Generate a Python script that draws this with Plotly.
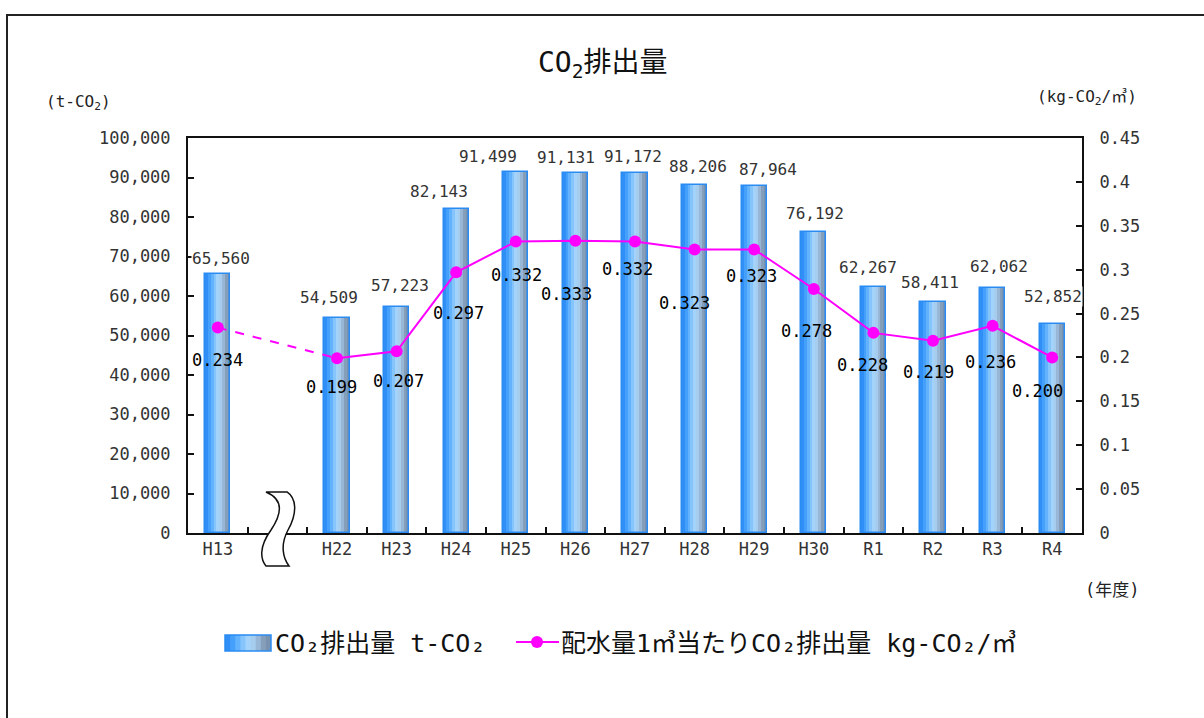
import plotly.graph_objects as go

# ---------------- data ----------------
categories = ["H13", " ", "H22", "H23", "H24", "H25", "H26", "H27", "H28", "H29", "H30", "R1", "R2", "R3", "R4"]
co2_t = [65560, None, 54509, 57223, 82143, 91499, 91131, 91172, 88206, 87964, 76192, 62267, 58411, 62062, 52852]
co2_per_m3 = [0.234, None, 0.199, 0.207, 0.297, 0.332, 0.333, 0.332, 0.323, 0.323, 0.278, 0.228, 0.219, 0.236, 0.200]
left_ticks = [0, 10000, 20000, 30000, 40000, 50000, 60000, 70000, 80000, 90000, 100000]
right_ticks = [0, 0.05, 0.1, 0.15, 0.2, 0.25, 0.3, 0.35, 0.4, 0.45]

title_text = "CO<sub>2</sub>排出量"
left_title = "(t-CO<sub>2</sub>)"
right_title = "(kg-CO<sub>2</sub>/㎥)"
x_title = "(年度)"
legend_bar = "CO₂排出量 t-CO₂"
legend_line = "配水量1㎥当たりCO₂排出量 kg-CO₂/㎥"

# ---------------- styling ----------------
bar_label_dx = [3, 0, -8, 3, -17, -28, -9, -2, 3, 14, 1, -5, -3, 6, 1]
bar_label_dy = [16, 0, 20, 21, 17, 15, 16, 16, 18, 16, 19, 20, 20, 21, 28]
line_label_dx = [0, 0, -6, 2, 2, 1, -9, -8, -10, -3, -7, -11, -5, -2, -15]
line_label_dy = [32, 0, 29, 30, 41, 33, 53, 27, 54, 27, 42, 32, 31, 36, 34]
grad_colors = ["#2f8ff7", "#45a0fb", "#62b2fd", "#86c5fc", "#a3d3fa", "#a7cdee",
               "#98b7d6", "#859fbb", "#7892b0"]
BAR_W = 0.42
MAGENTA = "#ff00ff"
FONT = "DejaVu Sans Mono, Noto Sans CJK JP"

W, H = 1204, 718
PL, PR, PT, PB = 188, 1082, 138, 533   # plot area in pixels


def px(x):
    return (x - PL) / (PR - PL)


def py(y):
    return (PB - y) / (PB - PT)


fig = go.Figure()

n = len(grad_colors)
for i, c in enumerate(grad_colors):
    start = -BAR_W / 2 + i * BAR_W / n
    fig.add_trace(go.Bar(
        x=categories, y=co2_t, width=BAR_W / 2 - start, offset=start,
        marker=dict(color=c, line=dict(width=0)), showlegend=False, hoverinfo="skip"))
fig.add_trace(go.Bar(
    x=categories, y=co2_t, width=BAR_W, offset=-BAR_W / 2,
    marker=dict(color="rgba(0,0,0,0)", line=dict(color="#2a8cf2", width=1.5)),
    showlegend=False, name="CO₂排出量"))

# dashed connector across the break
first = 0
nxt = next(i for i in range(1, len(co2_per_m3)) if co2_per_m3[i] is not None)
fig.add_trace(go.Scatter(
    x=[categories[first], categories[nxt]], y=[co2_per_m3[first], co2_per_m3[nxt]],
    yaxis="y2", mode="lines", line=dict(color=MAGENTA, width=2, dash="dash"),
    showlegend=False, hoverinfo="skip"))
solid_y = [None if i < nxt else v for i, v in enumerate(co2_per_m3)]
fig.add_trace(go.Scatter(
    x=categories, y=solid_y, yaxis="y2", mode="lines",
    line=dict(color=MAGENTA, width=2), showlegend=False, hoverinfo="skip"))
fig.add_trace(go.Scatter(
    x=categories, y=co2_per_m3, yaxis="y2", mode="markers",
    marker=dict(color=MAGENTA, size=12), showlegend=False))

ann = []
for i, (c, v) in enumerate(zip(categories, co2_t)):
    if v is None:
        continue
    ann.append(dict(x=c, y=v, xref="x", yref="y", text=f"{v:,}", showarrow=False,
                    xshift=bar_label_dx[i], yshift=bar_label_dy[i],
                    xanchor="center", yanchor="middle",
                    bgcolor="white", borderpad=0,
                    font=dict(family=FONT, size=16, color="#333333")))
for i, (c, v) in enumerate(zip(categories, co2_per_m3)):
    if v is None:
        continue
    ann.append(dict(x=c, y=v, xref="x", yref="y2", text=f"{v:.3f}", showarrow=False,
                    xshift=line_label_dx[i], yshift=-line_label_dy[i],
                    xanchor="center", yanchor="middle",
                    font=dict(family=FONT, size=17, color="#000000")))


def label(x, y, text, size, anchor="center", color="#222"):
    return dict(x=px(x), y=py(y), xref="paper", yref="paper", text=text,
                xanchor=anchor, yanchor="middle", showarrow=False,
                font=dict(family=FONT, size=size, color=color))


# titles
ann.append(label(603, 65, title_text, 28, color="#111"))
ann.append(label(78, 103, left_title, 16))
ann.append(label(1087, 98, right_title, 16))
ann.append(label(1112, 590, x_title, 17))
# custom legend texts
ann.append(label(273, 643, legend_bar, 25, anchor="left", color="#111"))
ann.append(label(559, 643, legend_line, 25, anchor="left", color="#111"))

shapes = []
# outer frame
shapes.append(dict(type="rect", xref="paper", yref="paper",
                   x0=px(7), x1=px(1215), y0=py(730), y1=py(15),
                   line=dict(color="#222", width=2), fillcolor="rgba(0,0,0,0)", layer="below"))
# legend swatch (bar, gradient)
sx0, sx1, sy0, sy1 = 225, 271, 635, 651
for i, c in enumerate(grad_colors):
    shapes.append(dict(type="rect", xref="paper", yref="paper",
                       x0=px(sx0 + (sx1 - sx0) * i / n), x1=px(sx1),
                       y0=py(sy1), y1=py(sy0), line=dict(width=0), fillcolor=c))
shapes.append(dict(type="rect", xref="paper", yref="paper", x0=px(sx0), x1=px(sx1),
                   y0=py(sy1), y1=py(sy0), line=dict(color="#2a8cf2", width=1.5)))
# legend swatch (line + marker)
shapes.append(dict(type="line", xref="paper", yref="paper", x0=px(516), x1=px(559),
                   y0=py(642), y1=py(642), line=dict(color=MAGENTA, width=2)))
shapes.append(dict(type="circle", xref="paper", yref="paper", x0=px(531), x1=px(543),
                   y0=py(648), y1=py(636), line=dict(color=MAGENTA, width=0), fillcolor=MAGENTA))
# axis break symbol
pts = [(266, 492), (285, 500), (281, 515), (271, 530), (258, 548), (261, 560), (266, 566),
       (289, 566), (283, 558), (280, 545), (288, 530), (298, 512), (296, 498), (287, 492)]
P = [f"{px(a):.5f},{py(b):.5f}" for a, b in pts]
path = (f"M {P[0]} C {P[1]} {P[2]} {P[3]} C {P[4]} {P[5]} {P[6]} L {P[7]} "
        f"C {P[8]} {P[9]} {P[10]} C {P[11]} {P[12]} {P[13]} Z")
shapes.append(dict(type="path", xref="paper", yref="paper", path=path,
                   fillcolor="white", line=dict(color="#111", width=1.5), layer="above"))

axis_common = dict(showline=True, linecolor="#111", linewidth=2,
                   ticks="inside", ticklen=6, tickcolor="#111", tickwidth=1.5,
                   showgrid=False, zeroline=False,
                   tickfont=dict(family=FONT, size=17, color="#333"))

fig.update_layout(
    width=W, height=H,
    margin=dict(l=PL, r=W - PR, t=PT, b=H - PB, autoexpand=False),
    paper_bgcolor="white", plot_bgcolor="white",
    barmode="overlay", bargap=0,
    showlegend=False,
    font=dict(family=FONT, color="#222"),
    xaxis=dict(type="category", categoryorder="array", categoryarray=categories,
               range=[-0.5, len(categories) - 0.5], mirror=True,
               tickson="boundaries", **axis_common),
    yaxis=dict(range=[0, 100000], tickvals=left_ticks, tickformat=",",
               ticklabelstandoff=12, **axis_common),
    yaxis2=dict(range=[0, 0.45], tickvals=right_ticks, overlaying="y", side="right",
                ticklabelstandoff=12, **axis_common),
    annotations=ann, shapes=shapes,
)

fig.write_html("out.html")
